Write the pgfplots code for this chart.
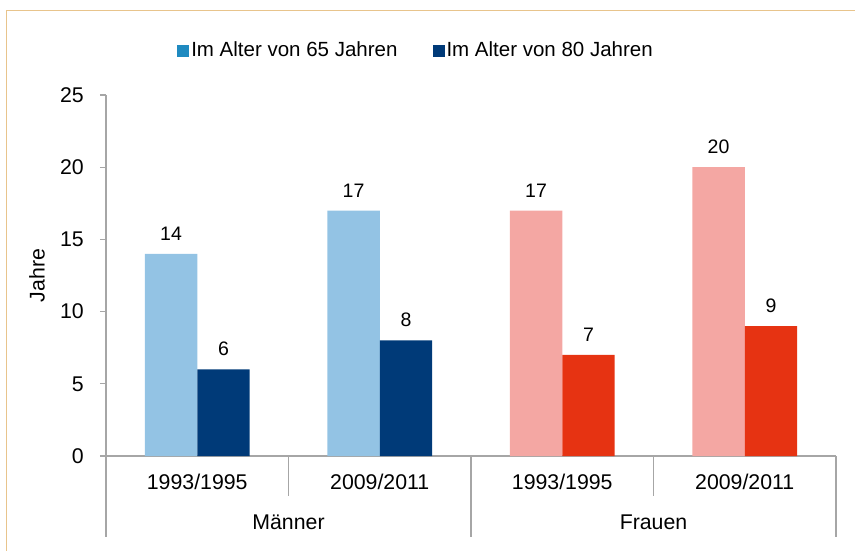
\documentclass[border=0pt]{standalone}
\usepackage{fontspec}
\setmainfont{Liberation Sans}
\usepackage{pgfplots}
\pgfplotsset{compat=1.18}
\definecolor{mlight}{HTML}{93C3E4}
\definecolor{mdark}{HTML}{003A78}
\definecolor{flight}{HTML}{F4A7A3}
\definecolor{fdark}{HTML}{E63312}
\definecolor{legblue}{HTML}{1F8AC0}
\definecolor{framec}{HTML}{E8C48C}
\definecolor{axgray}{HTML}{A6A6A6}
\begin{document}
\fontsize{21.3bp}{25bp}\selectfont
\begin{tikzpicture}
\useasboundingbox (0,0) rectangle (855bp,551bp);
\draw[framec, line width=1.2bp] (6.5bp,0) -- (6.5bp,540.5bp) -- (855bp,540.5bp);
\begin{axis}[
  at={(106bp,95bp)}, anchor=south west,
  scale only axis, width=730bp, height=361bp,
  xmin=-0.5, xmax=3.5, ymin=0, ymax=25,
  clip=false,
  axis x line=bottom, axis y line=left,
  axis line style={draw=axgray, line width=1.2bp, -},
  /pgf/number format/assume math mode=true,
  ytick={0,5,...,25},
  tick align=outside, major tick length=6bp,
  ytick style={draw=axgray, line width=1.2bp},
  yticklabel style={anchor=east, inner sep=0pt, xshift=-16bp},
  xtick={0,1,2,3},
  xticklabels={1993/1995,2009/2011,1993/1995,2009/2011},
  xtick style={draw=none},
  xticklabel style={anchor=base, inner sep=0pt, yshift=-27bp},
  ylabel={Jahre},
  every axis y label/.style={at={(axis description cs:0,0.5)}, rotate=90, anchor=center, yshift=69bp},
  legend image code/.code={\fill[#1] (0bp,-6bp) rectangle (12bp,6bp);},
  legend columns=2,
  legend style={draw=none, fill=none, at={(axis description cs:0.4247,1.122)}, anchor=center,
    font=\fontsize{20.5bp}{24bp}\selectfont, inner sep=0pt,
    nodes={inner sep=2bp},
    /tikz/every even column/.append style={column sep=33bp}},
  nodes near coords style={anchor=base, inner sep=0pt, yshift=13.5bp, font=\fontsize{19.5bp}{23bp}\selectfont},
]
\addlegendimage{fill=legblue, draw=none}
\addlegendentry{Im Alter von 65 Jahren}
\addlegendimage{fill=mdark, draw=none}
\addlegendentry{Im Alter von 80 Jahren}
\addplot[ybar, bar width=52.4bp, bar shift=-26.2bp, fill=mlight, draw=none, forget plot, nodes near coords, every node near coord/.append style={xshift=-26.2bp}] coordinates {(0,14) (1,17)};
\addplot[ybar, bar width=52.4bp, bar shift=26.2bp, fill=mdark, draw=none, forget plot, nodes near coords, every node near coord/.append style={xshift=26.2bp}] coordinates {(0,6) (1,8)};
\addplot[ybar, bar width=52.4bp, bar shift=-26.2bp, fill=flight, draw=none, forget plot, nodes near coords, every node near coord/.append style={xshift=-26.2bp}] coordinates {(2,17) (3,20)};
\addplot[ybar, bar width=52.4bp, bar shift=26.2bp, fill=fdark, draw=none, forget plot, nodes near coords, every node near coord/.append style={xshift=26.2bp}] coordinates {(2,7) (3,9)};
\draw[axgray, line width=1.2bp] (axis cs:-0.5,0) -- ++(0bp,-81bp);
\draw[axgray, line width=1.2bp] (axis cs:1.5,0) -- ++(0bp,-81bp);
\draw[axgray, line width=1.2bp] (axis cs:3.5,0) -- ++(0bp,-81bp);
\draw[axgray, line width=1.2bp] (axis cs:0.5,0) -- ++(0bp,-40bp);
\draw[axgray, line width=1.2bp] (axis cs:2.5,0) -- ++(0bp,-40bp);
\node[anchor=base, inner sep=0pt] at (axis cs:0.5,0) [yshift=-73.5bp] {Männer};
\node[anchor=base, inner sep=0pt] at (axis cs:2.5,0) [yshift=-73.5bp] {Frauen};
\end{axis}
\end{tikzpicture}
\end{document}
